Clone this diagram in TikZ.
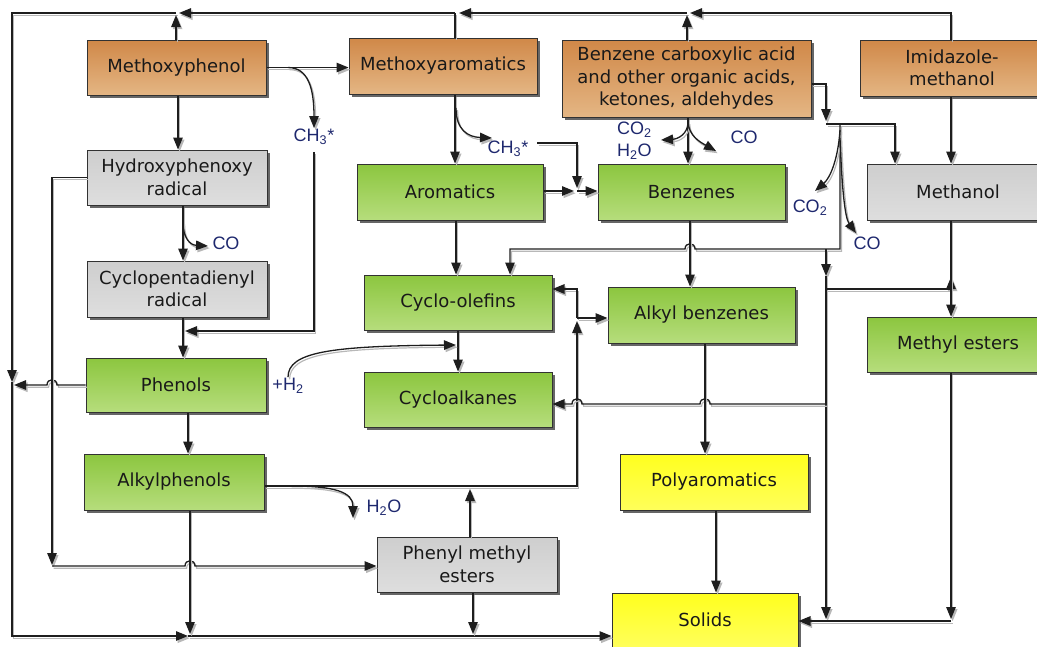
\documentclass[tikz,border=0pt]{standalone}
\usepackage{fontspec}
\setmainfont{DejaVu Sans}
\newfontfamily\lblfont{Liberation Sans}
\usetikzlibrary{arrows.meta}
\definecolor{or1}{RGB}{208,136,72}
\definecolor{or2}{RGB}{228,182,132}
\definecolor{gr1}{RGB}{140,198,63}
\definecolor{gr2}{RGB}{182,221,124}
\definecolor{gy1}{RGB}{206,206,206}
\definecolor{gy2}{RGB}{222,222,222}
\definecolor{ye1}{RGB}{255,255,30}
\definecolor{ye2}{RGB}{255,255,90}
\definecolor{boxline}{RGB}{50,50,50}
\definecolor{boxtext}{RGB}{25,25,25}
\definecolor{lblc}{RGB}{30,40,110}
\definecolor{lc}{RGB}{30,30,30}
\begin{document}
\begin{tikzpicture}[x=1pt,y=-1pt,
  box/.style={draw=boxline, line width=1pt, inner sep=2pt, align=center,
    font=\fontsize{18}{22.5}\selectfont, text=boxtext,
    preaction={fill=black!60, transform canvas={shift={(2.5pt,-2.5pt)}}}},
  obox/.style={box, top color=or1, bottom color=or2},
  gbox/.style={box, top color=gr1, bottom color=gr2},
  sbox/.style={box, top color=gy1, bottom color=gy2},
  ybox/.style={box, top color=ye1, bottom color=ye2},
  lbl/.style={font=\lblfont\fontsize{18}{20}\selectfont, text=lblc, inner sep=1pt, align=left},
  conn/.style={draw=lc, line width=1.3pt,
    preaction={draw=black!28, line width=1.2pt, transform canvas={shift={(1.6pt,-2.2pt)}}}},
  arr/.style={conn, -{Triangle[length=12pt,width=9.5pt]}}
]
\useasboundingbox (0,0) rectangle (1037,646);
\clip (0,0) rectangle (1037,646);

% boxes
\node[obox, minimum width=179, minimum height=55] (mp) at (176.5,67.5) {Methoxyphenol};
\node[obox, minimum width=188, minimum height=56] (ma) at (443,66) {Methoxyaromatics};
\node[obox, minimum width=249, minimum height=77] (bca) at (686.5,78.5) {Benzene carboxylic acid\\and other organic acids,\\ketones, aldehydes};
\node[obox, minimum width=184, minimum height=56] (imi) at (952,68) {Imidazole-\\methanol};
\node[sbox, minimum width=180, minimum height=55] (hyd) at (177,177.5) {Hydroxyphenoxy\\radical};
\node[gbox, minimum width=186, minimum height=56] (aro) at (450,192) {Aromatics};
\node[gbox, minimum width=187, minimum height=56] (ben) at (691.5,192) {Benzenes};
\node[sbox, minimum width=182, minimum height=56] (meth) at (958,192) {Methanol};
\node[sbox, minimum width=180, minimum height=56] (cyc) at (177,289) {Cyclopentadienyl\\radical};
\node[gbox, minimum width=188, minimum height=55] (col) at (458,302.5) {Cyclo-olefins};
\node[gbox, minimum width=187, minimum height=56] (ab) at (701.5,315) {Alkyl benzenes};
\node[gbox, minimum width=182, minimum height=55] (me) at (958,344.5) {Methyl esters};
\node[gbox, minimum width=180, minimum height=54] (ph) at (176,385) {Phenols};
\node[gbox, minimum width=188, minimum height=55] (ca) at (458,399.5) {Cycloalkanes};
\node[gbox, minimum width=180, minimum height=56] (ap) at (174,482) {Alkylphenols};
\node[ybox, minimum width=188, minimum height=56] (pa) at (714,482) {Polyaromatics};
\node[sbox, minimum width=180, minimum height=55] (pme) at (467,564.5) {Phenyl methyl\\esters};
\node[ybox, minimum width=186, minimum height=54] (sol) at (705,620) {Solids};

% labels
\node[lbl] (ch3a) at (314,137) {CH\textsubscript{3}*};
\node[lbl] (ch3b) at (508,149) {CH\textsubscript{3}*};
\node[lbl] (co1) at (226,243) {CO};
\node[lbl] (h2) at (288,386) {+H\textsubscript{2}};
\node[lbl] (h2o1) at (384,508) {H\textsubscript{2}O};
\node[lbl, anchor=west] (co2a) at (616,130) {CO\textsubscript{2}};
\node[lbl, anchor=west] (h2oa) at (616,152) {H\textsubscript{2}O};
\node[lbl] (co2) at (744,137) {CO};
\node[lbl] (co2b) at (810,208) {CO\textsubscript{2}};
\node[lbl] (co3) at (867,243) {CO};

% top bus and outer loop
\draw[arr] (951,0 |- imi.north) -- (951,13) -- (690,13);
\draw[arr] (687,13) -- (459,13);
\draw[arr] (455,13) -- (179,13);
\draw[arr] (176,13) -- (12,13) -- (12,382);
\draw[arr] (12,382) -- (12,636) -- (188,636);
\draw[conn] (188,636) -- (473,636);
\draw[arr] (473,636) -- (sol.west |- 0,636);
\draw[arr] (176,0 |- mp.north) -- (176,15);
\draw[conn] (455,0 |- ma.north) -- (455,13);
\draw[arr] (687,0 |- bca.north) -- (687,15);

% left column
\draw[arr] (mp.east) -- (ma.west |- mp.east);
\draw[arr] (288,67.5) .. controls (308,67.5) and (314,88) .. (ch3a.north);
\draw[arr] (178,0 |- mp.south) -- (178,0 |- hyd.north);
\draw[arr] (183,0 |- hyd.south) -- (183,0 |- cyc.north);
\draw[arr] (183,222) .. controls (183,238) and (190,245) .. (208,246);
\draw[arr] (183,0 |- cyc.south) -- (183,0 |- ph.north);
\draw[arr] ([yshift=-6pt]ch3a.south) -- (314,331) -- (185,331);
\draw[arr] (188,0 |- ph.south) -- (188,0 |- ap.north);
\draw[arr] (ph.west) -- (57,385) .. controls (57,378) and (47,378) .. (47,385) -- (14,385);
\draw[arr] (hyd.west) -- (52,177.5) -- (52,565);
\draw[arr] (52,566) -- (185,566) .. controls (185,559) and (195,559) .. (195,566) -- (pme.west |- 0,566);
\draw[arr] (190,0 |- ap.south) -- (190,634);
\draw[arr] (ap.east |- 0,486) -- (577,486) -- (577,321);
\draw[arr] (577,318) -- (577,289) -- (col.east |- 0,289);
\draw[arr] (577,318) -- (ab.west |- 0,318);
\draw[arr] (290,486) .. controls (335,486) and (353,492) .. (353,518);
\draw[arr] (470,0 |- pme.north) -- (470,489);
\draw[arr] (473,0 |- pme.south) -- (473,634);

% middle column
\draw[arr] (455,0 |- ma.south) -- (455,0 |- aro.north);
\draw[arr] (456,108) .. controls (456,130) and (468,137) .. (492,138);
\draw[arr] (537,143) -- (577,143) -- (577,188);
\draw[arr] (aro.east |- 0,191) -- (574,191);
\draw[arr] (577,191) -- (ben.west |- 0,191);
\draw[arr] (456,0 |- aro.south) -- (456,0 |- col.north);
\draw[arr] (458,0 |- col.south) -- (458,0 |- ca.north);
\draw[arr] (h2.north) .. controls (288,352) and (330,346) .. (456,345);

% right part
\draw[arr] (688,0 |- bca.south) -- (688,0 |- ben.north);
\draw[arr] (688,122) .. controls (688,134) and (678,139) .. (661,140);
\draw[arr] (688,122) .. controls (689,136) and (700,142) .. (716,151);
\draw[arr] (bca.east |- 0,84) -- (826,84) -- (826,121);
\draw[arr] (826,124) -- (895,124) -- (895,0 |- meth.north);
\draw[arr] (840,124) -- (840,249) -- (695,249) .. controls (695,242) and (685,242) .. (685,249) -- (510,249) -- (510,0 |- col.north);
\draw[arr] (840,130) .. controls (838,160) and (830,178) .. (815,191);
\draw[arr] (840,138) .. controls (842,190) and (845,218) .. (856,233);
\draw[arr] (690,0 |- ben.south) -- (690,0 |- ab.north);
\draw[arr] (826,249) -- (826,276);
\draw[arr] (826,276) -- (826,619);
\draw[arr] (826,289) -- (951,289) -- (951,277);
\draw[arr] (951,0 |- imi.south) -- (951,0 |- meth.north);
\draw[arr] (951,0 |- meth.south) -- (951,0 |- me.north);
\draw[arr] (951,0 |- me.south) -- (951,619);
\draw[arr] (951,621) -- (sol.east |- 0,621);
\draw[arr] (826,404) -- (710,404) .. controls (710,397) and (700,397) .. (700,404) -- (582,404) .. controls (582,397) and (572,397) .. (572,404) -- (ca.east |- 0,404);
\draw[arr] (705,0 |- ab.south) -- (705,0 |- pa.north);
\draw[arr] (716,0 |- pa.south) -- (716,0 |- sol.north);
\end{tikzpicture}
\end{document}
